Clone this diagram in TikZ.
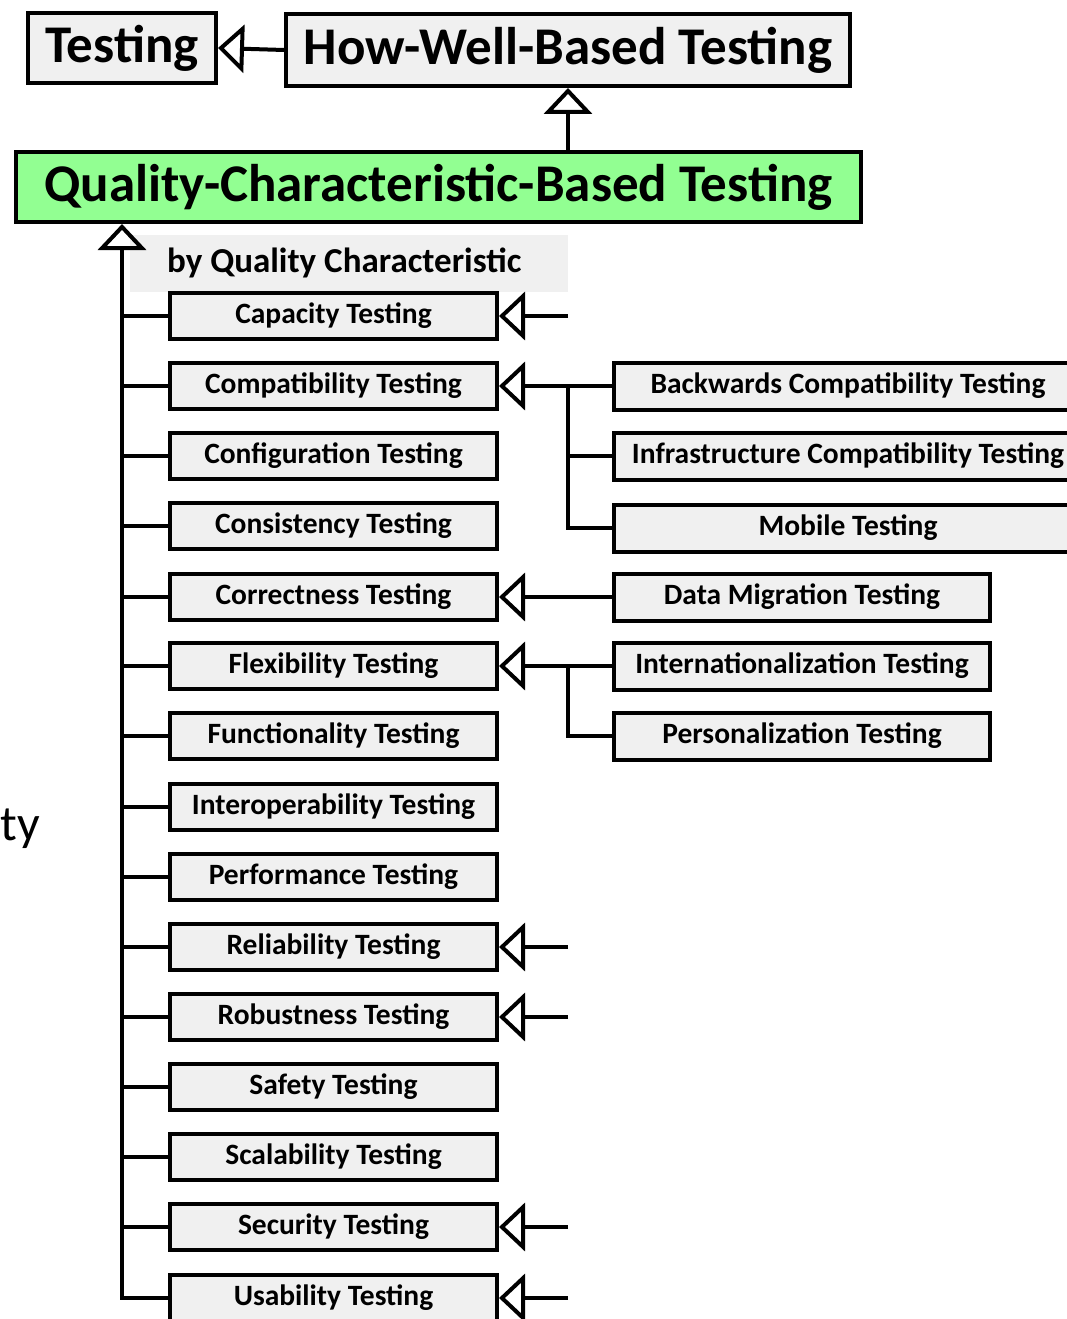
\documentclass[tikz,border=0pt]{standalone}
\usepackage{fontspec}
\setmainfont{Carlito}
\usetikzlibrary{arrows.meta}
\definecolor{boxgray}{RGB}{240,240,240}
\definecolor{qgreen}{RGB}{146,255,146}
\begin{document}
\begin{tikzpicture}[x=1pt,y=-1pt,
  boxbase/.style={draw=black,line width=4pt,fill=boxgray,inner sep=0pt,font=\bfseries,anchor=center},
  bigbox/.style={boxbase,minimum height=70pt,font=\fontsize{53}{56}\selectfont\bfseries},
  kid/.style={boxbase,minimum width=327pt,minimum height=46pt,font=\fontsize{29.5}{32}\selectfont\bfseries},
  subkid/.style={boxbase,minimum height=47pt,font=\fontsize{29.5}{32}\selectfont\bfseries},
  gen/.style={line width=4pt,-{Triangle[open,length=26pt,width=48pt,line width=4pt]}},
  conn/.style={line width=4pt},
]
\useasboundingbox (0,0) rectangle (1067,1319);
% top
\node[bigbox,minimum width=188pt] (T) at (122,48) {Testing};
\node[bigbox,minimum width=564pt,minimum height=72pt] (HW) at (568,50) {How-Well-Based Testing};
\node[bigbox,minimum width=845pt,fill=qgreen] (Q) at (438.5,187) {Quality-Characteristic-Based Testing};
\draw[gen] (HW.west) -- (T.east);
\draw[gen] (Q.north -| HW.south) -- (HW.south);
% label
\node[fill=boxgray,minimum width=438pt,minimum height=57pt,inner sep=0pt] (lbl) at (349,263.5) {};
\node[anchor=west,inner sep=0pt,font=\fontsize{35}{38}\selectfont\bfseries] (lbltext) at (167,263) {by Quality Characteristic};
% partial text at left
\node[anchor=base west,inner sep=0pt,font=\fontsize{50}{54}\selectfont] (ty) at (0.5,840) {ty};
% children
\foreach \n/\y/\t in {cap/316/Capacity Testing, com/386/Compatibility Testing, cnf/456/Configuration Testing, cns/526/Consistency Testing, cor/597/Correctness Testing, fle/666/Flexibility Testing, fun/736/Functionality Testing, int/807/Interoperability Testing, per/877/Performance Testing, rel/947/Reliability Testing, rob/1017/Robustness Testing, saf/1087/Safety Testing, sca/1157/Scalability Testing, sec/1227/Security Testing, usa/1298/Usability Testing}{
  \node[kid] (\n) at (333.5,\y) {\t};
}
\coordinate (trunkbot) at (122,1298);
\coordinate (brx) at (568,0);
\draw[gen] (usa.west) -| (trunkbot |- Q.south);
\foreach \n in {cap,com,cnf,cns,cor,fle,fun,int,per,rel,rob,saf,sca,sec}{
  \draw[conn] (trunkbot |- \n.west) -- (\n.west);
}
% sub children
\node[subkid,minimum width=468pt] (bac) at (848,386) {Backwards Compatibility Testing};
\node[subkid,minimum width=468pt] (inf) at (848,456) {Infrastructure Compatibility Testing};
\node[subkid,minimum width=468pt] (mob) at (848,528) {Mobile Testing};
\node[subkid,minimum width=376pt] (dat) at (802,597) {Data Migration Testing};
\node[subkid,minimum width=376pt] (itn) at (802,666) {Internationalization Testing};
\node[subkid,minimum width=376pt] (pers) at (802,736) {Personalization Testing};
\draw[gen] (bac.west) -- (com.east);
\draw[conn] (brx |- com.east) |- (mob.west);
\draw[conn] (brx |- inf.west) -- (inf.west);
\draw[gen] (dat.west) -- (cor.east);
\draw[gen] (itn.west) -- (fle.east);
\draw[conn] (brx |- itn.west) |- (pers.west);
% dangling generalizations
\foreach \n in {cap,rel,rob,sec,usa}{
  \coordinate (\n free) at (brx |- \n.east);
  \draw[gen] (\n free) -- (\n.east);
}
\end{tikzpicture}
\end{document}
